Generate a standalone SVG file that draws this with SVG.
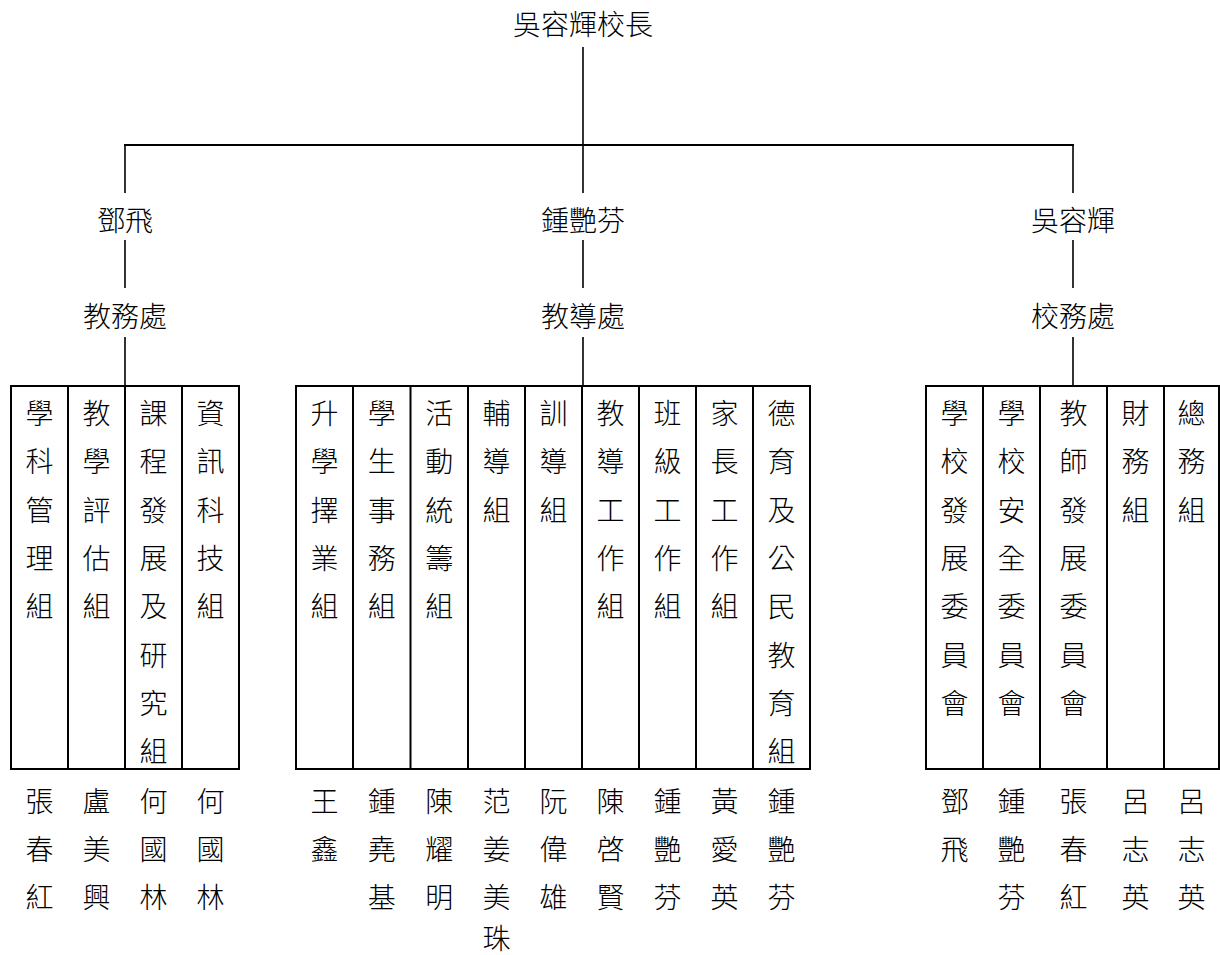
<svg xmlns="http://www.w3.org/2000/svg" width="1220" height="955" viewBox="0 0 1220 955">
<style>
.t{font-family:"Noto Sans CJK TC","Noto Sans CJK SC",sans-serif;font-size:28px;font-weight:300;fill:#000;text-anchor:middle;dominant-baseline:central}
.c{stroke:#000;stroke-width:1.6;fill:none}
.h{stroke:#000;stroke-width:2.2;fill:none}
.b{stroke:#000;stroke-width:2;fill:none}
</style>
<rect width="1220" height="955" fill="#fff"/>
<g id="connectors">
<line class="c" x1="583" y1="47" x2="583" y2="145"/>
<line class="h" x1="124" y1="145" x2="1074" y2="145"/>
<line class="c" x1="125" y1="145" x2="125" y2="193"/>
<line class="c" x1="583" y1="145" x2="583" y2="193"/>
<line class="c" x1="1073" y1="145" x2="1073" y2="193"/>
<line class="c" x1="125" y1="240" x2="125" y2="288"/>
<line class="c" x1="583" y1="240" x2="583" y2="288"/>
<line class="c" x1="1073" y1="240" x2="1073" y2="288"/>
<line class="c" x1="125" y1="337" x2="125" y2="386"/>
<line class="c" x1="583" y1="337" x2="583" y2="386"/>
<line class="c" x1="1073" y1="337" x2="1073" y2="386"/>
</g>
<g id="principal"><text class="t" x="583" y="23">吳容輝校長</text></g>
<g id="head-left"><text class="t" x="125" y="219">鄧飛</text></g>
<g id="head-mid"><text class="t" x="583" y="219">鍾艷芬</text></g>
<g id="head-right"><text class="t" x="1073" y="219">吳容輝</text></g>
<g id="dept-left"><text class="t" x="125" y="315">教務處</text></g>
<g id="dept-mid"><text class="t" x="583" y="315">教導處</text></g>
<g id="dept-right"><text class="t" x="1073" y="315">校務處</text></g>

<g id="box-left">
<rect class="b" x="11" y="386" width="228" height="383"/>
<line class="b" x1="68" y1="386" x2="68" y2="769"/>
<line class="b" x1="125" y1="386" x2="125" y2="769"/>
<line class="b" x1="182" y1="386" x2="182" y2="769"/>
<text class="t"><tspan x="39.5" y="412">學</tspan><tspan x="39.5" y="460.3">科</tspan><tspan x="39.5" y="508.7">管</tspan><tspan x="39.5" y="557">理</tspan><tspan x="39.5" y="605.3">組</tspan></text>
<text class="t"><tspan x="96.5" y="412">教</tspan><tspan x="96.5" y="460.3">學</tspan><tspan x="96.5" y="508.7">評</tspan><tspan x="96.5" y="557">估</tspan><tspan x="96.5" y="605.3">組</tspan></text>
<text class="t"><tspan x="153.5" y="412">課</tspan><tspan x="153.5" y="460.3">程</tspan><tspan x="153.5" y="508.7">發</tspan><tspan x="153.5" y="557">展</tspan><tspan x="153.5" y="605.3">及</tspan><tspan x="153.5" y="653.7">研</tspan><tspan x="153.5" y="702">究</tspan><tspan x="153.5" y="750.3">組</tspan></text>
<text class="t"><tspan x="210.5" y="412">資</tspan><tspan x="210.5" y="460.3">訊</tspan><tspan x="210.5" y="508.7">科</tspan><tspan x="210.5" y="557">技</tspan><tspan x="210.5" y="605.3">組</tspan></text>
</g>
<g id="names-left">
<text class="t"><tspan x="39.5" y="799.5">張</tspan><tspan x="39.5" y="847.5">春</tspan><tspan x="39.5" y="895.5">紅</tspan></text>
<text class="t"><tspan x="96.5" y="799.5">盧</tspan><tspan x="96.5" y="847.5">美</tspan><tspan x="96.5" y="895.5">興</tspan></text>
<text class="t"><tspan x="153.5" y="799.5">何</tspan><tspan x="153.5" y="847.5">國</tspan><tspan x="153.5" y="895.5">林</tspan></text>
<text class="t"><tspan x="210.5" y="799.5">何</tspan><tspan x="210.5" y="847.5">國</tspan><tspan x="210.5" y="895.5">林</tspan></text>
</g>

<g id="box-mid">
<rect class="b" x="296" y="386" width="514" height="383"/>
<line class="b" x1="353" y1="386" x2="353" y2="769"/>
<line class="b" x1="410.5" y1="386" x2="410.5" y2="769"/>
<line class="b" x1="468" y1="386" x2="468" y2="769"/>
<line class="b" x1="525" y1="386" x2="525" y2="769"/>
<line class="b" x1="582" y1="386" x2="582" y2="769"/>
<line class="b" x1="639" y1="386" x2="639" y2="769"/>
<line class="b" x1="696" y1="386" x2="696" y2="769"/>
<line class="b" x1="753" y1="386" x2="753" y2="769"/>
<text class="t"><tspan x="324.5" y="412">升</tspan><tspan x="324.5" y="460.3">學</tspan><tspan x="324.5" y="508.7">擇</tspan><tspan x="324.5" y="557">業</tspan><tspan x="324.5" y="605.3">組</tspan></text>
<text class="t"><tspan x="381.7" y="412">學</tspan><tspan x="381.7" y="460.3">生</tspan><tspan x="381.7" y="508.7">事</tspan><tspan x="381.7" y="557">務</tspan><tspan x="381.7" y="605.3">組</tspan></text>
<text class="t"><tspan x="439.2" y="412">活</tspan><tspan x="439.2" y="460.3">動</tspan><tspan x="439.2" y="508.7">統</tspan><tspan x="439.2" y="557">籌</tspan><tspan x="439.2" y="605.3">組</tspan></text>
<text class="t"><tspan x="496.5" y="412">輔</tspan><tspan x="496.5" y="460.3">導</tspan><tspan x="496.5" y="508.7">組</tspan></text>
<text class="t"><tspan x="553.5" y="412">訓</tspan><tspan x="553.5" y="460.3">導</tspan><tspan x="553.5" y="508.7">組</tspan></text>
<text class="t"><tspan x="610.5" y="412">教</tspan><tspan x="610.5" y="460.3">導</tspan><tspan x="610.5" y="508.7">工</tspan><tspan x="610.5" y="557">作</tspan><tspan x="610.5" y="605.3">組</tspan></text>
<text class="t"><tspan x="667.5" y="412">班</tspan><tspan x="667.5" y="460.3">級</tspan><tspan x="667.5" y="508.7">工</tspan><tspan x="667.5" y="557">作</tspan><tspan x="667.5" y="605.3">組</tspan></text>
<text class="t"><tspan x="724.5" y="412">家</tspan><tspan x="724.5" y="460.3">長</tspan><tspan x="724.5" y="508.7">工</tspan><tspan x="724.5" y="557">作</tspan><tspan x="724.5" y="605.3">組</tspan></text>
<text class="t"><tspan x="781.5" y="412">德</tspan><tspan x="781.5" y="460.3">育</tspan><tspan x="781.5" y="508.7">及</tspan><tspan x="781.5" y="557">公</tspan><tspan x="781.5" y="605.3">民</tspan><tspan x="781.5" y="653.7">教</tspan><tspan x="781.5" y="702">育</tspan><tspan x="781.5" y="750.3">組</tspan></text>
</g>
<g id="names-mid">
<text class="t"><tspan x="324.5" y="799.5">王</tspan><tspan x="324.5" y="847.5">鑫</tspan></text>
<text class="t"><tspan x="381.7" y="799.5">鍾</tspan><tspan x="381.7" y="847.5">堯</tspan><tspan x="381.7" y="895.5">基</tspan></text>
<text class="t"><tspan x="439.2" y="799.5">陳</tspan><tspan x="439.2" y="847.5">耀</tspan><tspan x="439.2" y="895.5">明</tspan></text>
<text class="t"><tspan x="496.5" y="799.5">范</tspan><tspan x="496.5" y="847.5">姜</tspan><tspan x="496.5" y="895.5">美</tspan><tspan x="496.5" y="937">珠</tspan></text>
<text class="t"><tspan x="553.5" y="799.5">阮</tspan><tspan x="553.5" y="847.5">偉</tspan><tspan x="553.5" y="895.5">雄</tspan></text>
<text class="t"><tspan x="610.5" y="799.5">陳</tspan><tspan x="610.5" y="847.5">啓</tspan><tspan x="610.5" y="895.5">賢</tspan></text>
<text class="t"><tspan x="667.5" y="799.5">鍾</tspan><tspan x="667.5" y="847.5">艷</tspan><tspan x="667.5" y="895.5">芬</tspan></text>
<text class="t"><tspan x="724.5" y="799.5">黃</tspan><tspan x="724.5" y="847.5">愛</tspan><tspan x="724.5" y="895.5">英</tspan></text>
<text class="t"><tspan x="781.5" y="799.5">鍾</tspan><tspan x="781.5" y="847.5">艷</tspan><tspan x="781.5" y="895.5">芬</tspan></text>
</g>

<g id="box-right">
<rect class="b" x="926" y="386" width="293" height="383"/>
<line class="b" x1="983" y1="386" x2="983" y2="769"/>
<line class="b" x1="1040" y1="386" x2="1040" y2="769"/>
<line class="b" x1="1107" y1="386" x2="1107" y2="769"/>
<line class="b" x1="1164" y1="386" x2="1164" y2="769"/>
<text class="t"><tspan x="954.5" y="412">學</tspan><tspan x="954.5" y="460.3">校</tspan><tspan x="954.5" y="508.7">發</tspan><tspan x="954.5" y="557">展</tspan><tspan x="954.5" y="605.3">委</tspan><tspan x="954.5" y="653.7">員</tspan><tspan x="954.5" y="702">會</tspan></text>
<text class="t"><tspan x="1011.5" y="412">學</tspan><tspan x="1011.5" y="460.3">校</tspan><tspan x="1011.5" y="508.7">安</tspan><tspan x="1011.5" y="557">全</tspan><tspan x="1011.5" y="605.3">委</tspan><tspan x="1011.5" y="653.7">員</tspan><tspan x="1011.5" y="702">會</tspan></text>
<text class="t"><tspan x="1073.5" y="412">教</tspan><tspan x="1073.5" y="460.3">師</tspan><tspan x="1073.5" y="508.7">發</tspan><tspan x="1073.5" y="557">展</tspan><tspan x="1073.5" y="605.3">委</tspan><tspan x="1073.5" y="653.7">員</tspan><tspan x="1073.5" y="702">會</tspan></text>
<text class="t"><tspan x="1135.5" y="412">財</tspan><tspan x="1135.5" y="460.3">務</tspan><tspan x="1135.5" y="508.7">組</tspan></text>
<text class="t"><tspan x="1191.5" y="412">總</tspan><tspan x="1191.5" y="460.3">務</tspan><tspan x="1191.5" y="508.7">組</tspan></text>
</g>
<g id="names-right">
<text class="t"><tspan x="954.5" y="799.5">鄧</tspan><tspan x="954.5" y="847.5">飛</tspan></text>
<text class="t"><tspan x="1011.5" y="799.5">鍾</tspan><tspan x="1011.5" y="847.5">艷</tspan><tspan x="1011.5" y="895.5">芬</tspan></text>
<text class="t"><tspan x="1073.5" y="799.5">張</tspan><tspan x="1073.5" y="847.5">春</tspan><tspan x="1073.5" y="895.5">紅</tspan></text>
<text class="t"><tspan x="1135.5" y="799.5">呂</tspan><tspan x="1135.5" y="847.5">志</tspan><tspan x="1135.5" y="895.5">英</tspan></text>
<text class="t"><tspan x="1191.5" y="799.5">呂</tspan><tspan x="1191.5" y="847.5">志</tspan><tspan x="1191.5" y="895.5">英</tspan></text>
</g>
</svg>
